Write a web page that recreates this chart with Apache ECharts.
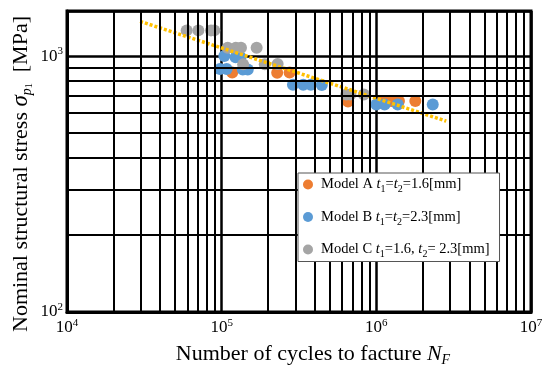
<!DOCTYPE html>
<html>
<head>
<meta charset="utf-8">
<script src="https://cdn.jsdelivr.net/npm/echarts@6/dist/echarts.min.js"></script>
<style>
html,body{margin:0;padding:0;background:#fff;}
#c{width:548px;height:365px;}
</style>
</head>
<body>
<div id="c"></div>
<script>
// ---- data ----
var modelA_N = [117000, 228500, 275000, 656000, 1099000, 1250000, 1400000, 1787000];
var modelA_S = [862, 860, 862, 665, 667, 667, 667, 667];

var modelB_N = [104000, 123000, 132500, 97500, 107700, 137000, 147500, 289000, 337000, 377000, 444000, 1000000, 1131000, 1375000, 2316000];
var modelB_S = [1000, 990, 990, 890, 890, 887, 887, 772, 772, 772, 770, 647, 647, 647, 647];

var modelC_N = [59400, 70700, 85300, 89600, 109400, 123500, 133300, 168300, 137700, 190000, 230000, 640000, 679000, 831000];
var modelC_S = [1260, 1260, 1260, 1260, 1077, 1077, 1077, 1077, 928, 928, 932, 708, 708, 708];

var trend_N = [29700, 2831000];
var trend_S = [1366, 557];

var xMinorGrid = [2e4,3e4,4e4,5e4,6e4,7e4,8e4,9e4,2e5,3e5,4e5,5e5,6e5,7e5,8e5,9e5,2e6,3e6,4e6,5e6,6e6,7e6,8e6,9e6];
var yMinorGrid = [200,300,400,500,600,700,800,900];

var legendLabels = {
  'Model A': '{n|Model A }{i|t}{s|1}{n|=}{i|t}{s|2}{n|=1.6[mm]}',
  'Model B': '{n|Model B }{i|t}{s|1}{n|=}{i|t}{s|2}{n|=2.3[mm]}',
  'Model C': '{n|Model C }{i|t}{s|1}{n|=1.6, }{i|t}{s|2}{n|= 2.3[mm]}'
};

function zip(a, b) { return a.map(function (v, i) { return [v, b[i]]; }); }

var FONT = 'Liberation Serif';

function powLabel(v) {
  var e = Math.log10(v);
  var r = Math.round(e);
  if (Math.abs(e - r) > 1e-6) return '';
  return '{b|10}{p|' + r + '}';
}
var axisRich = {
  b: {fontFamily: FONT, fontSize: 17, color: '#000', lineHeight: 20},
  p: {fontFamily: FONT, fontSize: 11, color: '#000', lineHeight: 10, verticalAlign: 'top'}
};
var gridLine = {color: '#000', width: 2, type: 'solid'};

var chart = echarts.init(document.getElementById('c'), null, {renderer: 'canvas'});
chart.setOption({
  animation: false,
  backgroundColor: '#fff',
  grid: {left: 67, top: 11, width: 464, height: 301, show: true, borderColor: '#000', borderWidth: 3, backgroundColor: 'transparent'},
  xAxis: {
    type: 'log', logBase: 10, min: 1e4, max: 1e7,
    axisLine: {show: true, lineStyle: {color: '#000', width: 3}},
    axisTick: {show: false},
    splitLine: {show: true, lineStyle: {color: '#000', width: 2.5}},
    axisLabel: {margin: 6, formatter: powLabel, rich: axisRich, color: '#000'}
  },
  yAxis: {
    type: 'log', logBase: 10, min: 100, max: 1500,
    axisLine: {show: true, lineStyle: {color: '#000', width: 3}},
    axisTick: {show: false},
    splitLine: {show: true, lineStyle: {color: '#000', width: 2.5}},
    axisLabel: {margin: 4, formatter: powLabel, rich: axisRich, color: '#000'}
  },
  legend: {
    z: 20,
    orient: 'vertical', left: 298, top: 173,
    backgroundColor: '#fff', borderColor: '#555', borderWidth: 1,
    padding: [4, 10, 2, 5], itemGap: 15,
    icon: 'circle', itemWidth: 16, itemHeight: 10,
    data: ['Model A', 'Model B', 'Model C'],
    formatter: function (name) { return legendLabels[name]; },
    textStyle: {
      fontFamily: FONT, fontSize: 14.5, color: '#000',
      rich: {
        n: {fontFamily: FONT, fontSize: 14.5, color: '#000', lineHeight: 20},
        i: {fontFamily: FONT, fontSize: 14.5, fontStyle: 'italic', color: '#000', lineHeight: 20},
        s: {fontFamily: FONT, fontSize: 10, color: '#000', lineHeight: 12, verticalAlign: 'bottom'}
      }
    }
  },
  graphic: [
    {
      type: 'text', x: 313, y: 354,
      style: {
        text: '{n|Number of cycles to facture }{i|N}{s|F}',
        align: 'center', verticalAlign: 'middle', fill: '#000',
        rich: {
          n: {fontFamily: FONT, fontSize: 22, fill: '#000', lineHeight: 26},
          i: {fontFamily: FONT, fontSize: 22, fontStyle: 'italic', fill: '#000', lineHeight: 26},
          s: {fontFamily: FONT, fontSize: 14, fontStyle: 'italic', fill: '#000', lineHeight: 15, verticalAlign: 'bottom'}
        }
      }
    },
    {
      type: 'text', x: 21, y: 174, rotation: Math.PI / 2,
      style: {
        text: '{n|Nominal structural stress }{i|\u03C3}{s|p}{ss|1}{n|  [MPa]}',
        align: 'center', verticalAlign: 'middle', fill: '#000',
        rich: {
          n: {fontFamily: FONT, fontSize: 22, fill: '#000', lineHeight: 26},
          i: {fontFamily: FONT, fontSize: 23, fontStyle: 'italic', fill: '#000', lineHeight: 26},
          s: {fontFamily: FONT, fontSize: 14, fontStyle: 'italic', fill: '#000', lineHeight: 15, verticalAlign: 'bottom'},
          ss: {fontFamily: FONT, fontSize: 10, fill: '#000', lineHeight: 11, verticalAlign: 'bottom'}
        }
      }
    }
  ],
  series: [
    {
      name: 'minor-grid', type: 'line', data: [], silent: true, z: 1,
      markLine: {
        silent: true, symbol: 'none', animation: false,
        label: {show: false},
        lineStyle: gridLine,
        data: xMinorGrid.map(function (v) { return {xAxis: v}; })
          .concat(yMinorGrid.map(function (v) { return {yAxis: v}; }))
      }
    },
    {
      name: 'Model A', type: 'scatter', z: 3, symbolSize: 12,
      itemStyle: {color: '#ED7D31', opacity: 1},
      data: zip(modelA_N, modelA_S)
    },
    {
      name: 'Model B', type: 'scatter', z: 3, symbolSize: 12,
      itemStyle: {color: '#5B9BD5', opacity: 1},
      data: zip(modelB_N, modelB_S)
    },
    {
      name: 'Model C', type: 'scatter', z: 3, symbolSize: 12,
      itemStyle: {color: '#A5A5A5', opacity: 1},
      data: zip(modelC_N, modelC_S)
    },
    {
      name: 'trend', type: 'line', z: 4, symbol: 'none', silent: true,
      lineStyle: {color: '#FFC000', width: 3.5, type: [3, 2]},
      data: zip(trend_N, trend_S)
    }
  ]
});
</script>
</body>
</html>
